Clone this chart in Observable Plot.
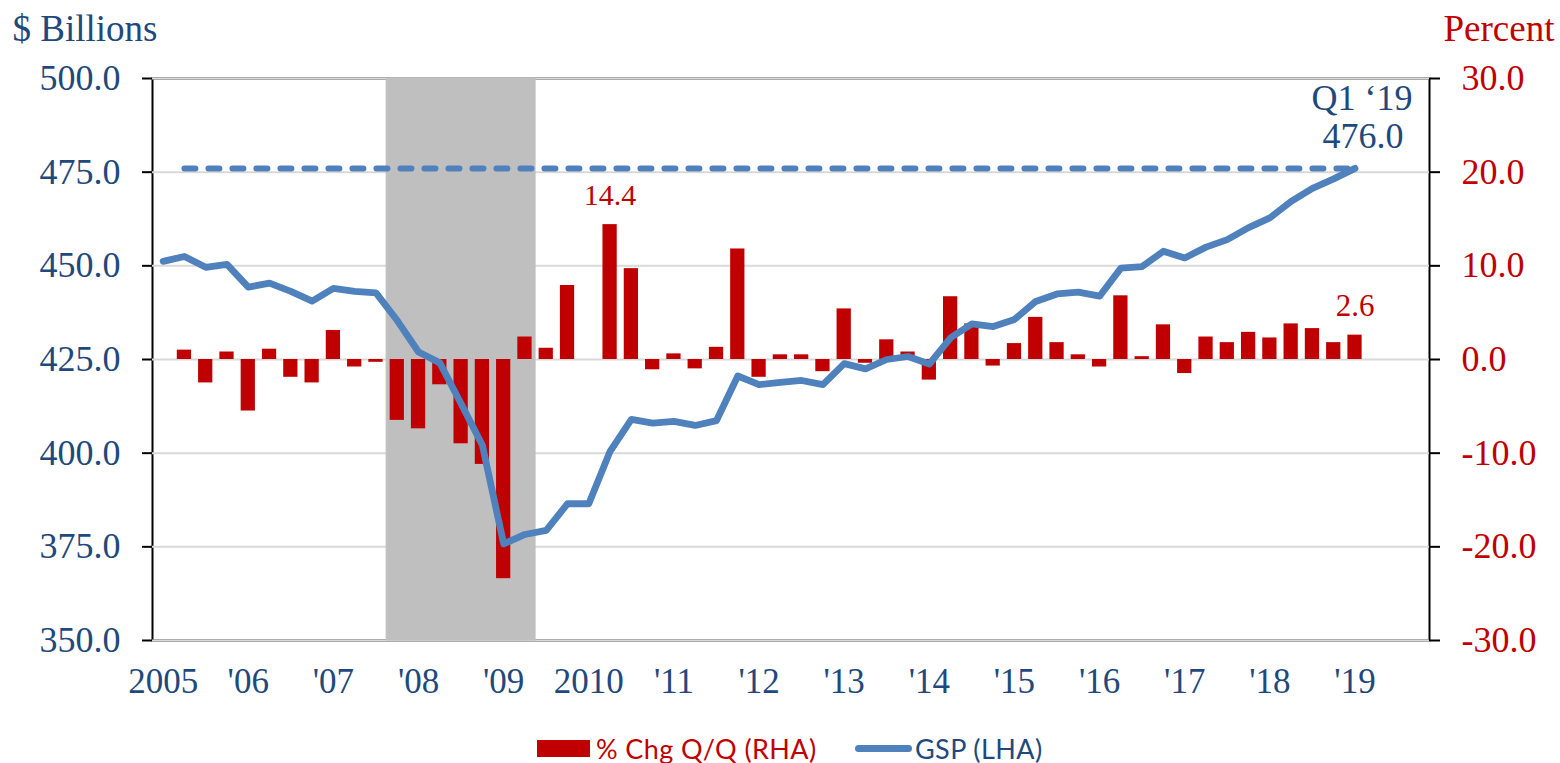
<!DOCTYPE html>
<html><head><meta charset="utf-8">
<script src="https://cdn.jsdelivr.net/npm/d3@7"></script>
<script src="https://cdn.jsdelivr.net/npm/@observablehq/plot@0.6"></script>
<style>
html,body{margin:0;padding:0;background:#fff;}
body{width:1560px;height:763px;overflow:hidden;position:relative;}
#legend{position:absolute;top:733px;left:0;width:1560px;height:30px;font-family:Lato,"Open Sans",sans-serif;font-size:27px;letter-spacing:0.4px;}
#legend .item{position:absolute;top:0;height:30px;display:flex;align-items:center;white-space:nowrap;}
</style></head><body>
<div id="chart"></div>
<div id="legend"></div>
<script>
// ---- data ----
const years = d3.range(2005, 2020);
const quarters = years.flatMap(y => [1, 2, 3, 4].map(q => `${y}Q${q}`)); // category axis 2005Q1..2019Q4
const yearLabels = ["2005","'06","'07","'08","'09","2010","'11","'12","'13","'14","'15","'16","'17","'18","'19"];

// Gross State Product, $ billions (left axis), 2005Q1..2019Q1
const gsp = [451.2,452.5,449.6,450.4,444.3,445.4,443.2,440.6,444.0,443.2,442.8,435.4,427.0,424.1,413.2,402.1,
  375.8,378.3,379.4,386.5,386.5,400.5,409.0,408.0,408.5,407.4,408.7,420.6,418.3,418.9,419.4,418.3,
  423.9,422.5,425.0,425.8,423.8,430.8,434.5,433.8,435.7,440.5,442.5,443.0,441.9,449.4,449.8,453.9,
  452.1,455.0,457.0,460.2,462.8,467.2,470.7,473.2,476.0];

// % change Q/Q, annualized (right axis)
const pctChg = [null,1.0,-2.5,0.8,-5.5,1.1,-1.9,-2.5,3.1,-0.8,-0.3,-6.5,-7.4,-2.7,-9.0,-11.2,
  -23.4,2.4,1.2,7.9,0.0,14.4,9.7,-1.1,0.6,-1.0,1.3,11.8,-1.9,0.5,0.5,-1.3,
  5.4,-0.4,2.1,0.8,-2.2,6.7,3.8,-0.7,1.7,4.5,1.8,0.5,-0.8,6.8,0.3,3.7,
  -1.5,2.4,1.8,2.9,2.3,3.8,3.3,1.8,2.6];

const recession = ["2007Q4","2008Q1","2008Q2","2008Q3","2008Q4","2009Q1","2009Q2"];
const leftTicks = [350, 375, 400, 425, 450, 475, 500];
const rightTicks = [-30, -20, -10, 0, 10, 20, 30];
const peak = {q: "2010Q2", pct: 14.4};
const latest = {q: "2019Q1", gsp: 476.0, pct: 2.6, label: "Q1 \u201819"};

// right axis (percent) mapped onto left axis units: -30..30 -> 350..500
const pctToLeft = p => 425 + 2.5 * p;

const data = gsp.map((v, i) => ({q: quarters[i], gsp: v, pct: pctChg[i]}));
const barData = data.filter(d => d.pct != null && d.pct !== 0);

const BLUE_TXT = "#1F497D", RED = "#C00000", LINE = "#4F81BD";
const serif = "Liberation Serif, Times New Roman, serif";

const chart = Plot.plot({
  width: 1560, height: 722,
  marginLeft: 152, marginRight: 131, marginTop: 78, marginBottom: 82,
  style: {background: "#fff", overflow: "visible"},
  x: {type: "band", domain: quarters, paddingInner: 0.33, paddingOuter: 0.165, round: false},
  y: {domain: [350, 500]},
  marks: [
    Plot.frame({stroke: "black", strokeWidth: 2}),
    Plot.ruleY(leftTicks, {stroke: "#D9D9D9", strokeWidth: 2}),
    Plot.barY(recession, {x: d => d, y1: 350, y2: 500, fill: "#BFBFBF", stroke: "#BFBFBF", strokeWidth: 1,
      insetLeft: -3.5, insetRight: -3.5}),
    Plot.barY(barData, {x: "q", y1: 425, y2: d => pctToLeft(d.pct), fill: RED}),
    Plot.lineY(quarters.slice(1, gsp.length), {x: d => d, y: () => latest.gsp, stroke: LINE, strokeWidth: 6,
      strokeDasharray: "11,13", strokeLinecap: "round"}),
    Plot.lineY(data, {x: "q", y: "gsp", stroke: LINE, strokeWidth: 6.8, strokeLinejoin: "round", strokeLinecap: "round"}),
    Plot.axisY({anchor: "left", ticks: leftTicks, tickFormat: d => d.toFixed(1), tickSize: 10, tickPadding: 22,
      fontSize: 36, fontFamily: serif, stroke: "black", strokeWidth: 2, fill: BLUE_TXT, label: null}),
    Plot.axisY({anchor: "right", ticks: rightTicks.map(pctToLeft), tickFormat: d => ((d - 425) / 2.5).toFixed(1),
      tickSize: 10, tickPadding: 22, fontSize: 36, fontFamily: serif, stroke: "black", strokeWidth: 2, fill: RED, label: null}),
    Plot.axisX({ticks: years.map(y => `${y}Q1`), tickFormat: d => yearLabels[years.indexOf(+d.slice(0, 4))],
      tickSize: 0, tickPadding: 28, fontSize: 35, fontFamily: serif, fill: BLUE_TXT, label: null}),
    Plot.text(["$ Billions"], {frameAnchor: "top-left", dx: -140, dy: -64, textAnchor: "start", fontSize: 37, fontFamily: serif, fill: BLUE_TXT}),
    Plot.text(["Percent"], {frameAnchor: "top-right", dx: 14, dy: -64, textAnchor: "start", fontSize: 37, fontFamily: serif, fill: RED}),
    Plot.text([peak], {x: "q", y: d => pctToLeft(d.pct), text: d => d.pct.toFixed(1), dy: -29, fontSize: 30, fontFamily: serif, fill: RED}),
    Plot.text([latest], {x: "q", y: d => pctToLeft(d.pct), text: d => d.pct.toFixed(1), dy: -29, fontSize: 31, fontFamily: serif, fill: RED}),
    Plot.text([latest], {x: "q", y: "gsp", text: d => d.gsp.toFixed(1), dx: 8, dy: -32, fontSize: 36, fontFamily: serif, fill: BLUE_TXT}),
    Plot.text([latest], {x: "q", y: "gsp", text: "label", dx: 7, dy: -70, fontSize: 36, fontFamily: serif, fill: BLUE_TXT})
  ]
});
document.getElementById("chart").appendChild(chart);

const legend = document.getElementById("legend");
legend.innerHTML = `
  <div class="item" style="left:537px;color:${RED}"><span style="display:inline-block;width:53px;height:17px;background:${RED};margin-right:6px"></span>% Chg Q/Q (RHA)</div>
  <div class="item" style="left:855px;color:${BLUE_TXT}"><span style="display:inline-block;width:57px;height:7px;border-radius:4px;background:${LINE};margin-right:3px"></span>GSP (LHA)</div>`;
</script>
</body></html>
